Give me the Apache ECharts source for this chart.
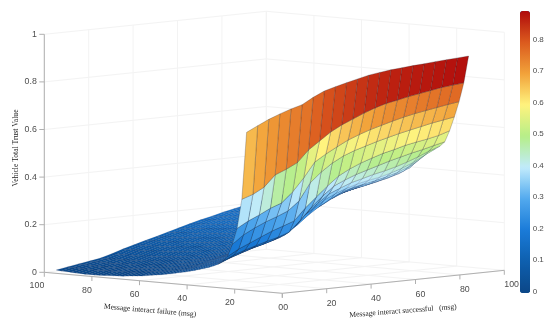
<!DOCTYPE html>
<html><head><meta charset="utf-8">
<style>html,body{margin:0;padding:0;background:#fff}#c{width:550px;height:322px}</style>
<script src="https://cdn.jsdelivr.net/npm/echarts@6/dist/echarts.min.js"></script>
</head><body><div id="c"></div>
<script>
const failValues=[15,17,19,21,23,25,27,29,31,33,35,37,39,41,43,45,47,49,51,53,55,57,59,61,63,65,67,69,71,73,75,77,79,81,83,85,87,89,91,93,95];
const successValues=[0,5,10,15,20,25,30,35,40,45,50,55,60,65,70,75,80,85,90,95,100];
const trustRows=[
[.663,.686,.708,.726,.742,.755,.781,.803,.816,.828,.839,.850,.857,.863,.867,.871,.874,.878,.881,.884,.887],
[.380,.396,.421,.468,.487,.510,.558,.591,.624,.649,.669,.689,.706,.720,.729,.739,.747,.755,.763,.768,.773],
[.256,.282,.303,.326,.343,.385,.439,.501,.530,.555,.579,.597,.613,.626,.639,.651,.661,.669,.677,.685,.692],
[.187,.222,.246,.267,.284,.303,.340,.411,.452,.485,.510,.528,.542,.556,.568,.580,.590,.600,.610,.618,.626],
[.134,.161,.181,.202,.222,.238,.255,.304,.346,.387,.424,.449,.469,.485,.500,.511,.524,.533,.541,.551,.566],
[.113,.134,.150,.164,.178,.190,.207,.252,.302,.343,.380,.401,.419,.433,.447,.461,.473,.485,.495,.507,.518],
[.098,.118,.134,.150,.162,.176,.192,.228,.275,.311,.345,.365,.383,.395,.408,.418,.430,.445,.462,.482,.498],
[.089,.108,.124,.139,.154,.166,.180,.210,.256,.285,.318,.340,.358,.372,.382,.390,.403,.418,.437,.462,.484],
[.081,.099,.115,.130,.144,.156,.170,.195,.221,.258,.290,.318,.340,.354,.365,.373,.385,.398,.417,.443,.474],
[.075,.092,.107,.122,.136,.148,.162,.183,.203,.245,.275,.300,.325,.342,.354,.360,.371,.383,.398,.425,.460],
[.069,.085,.100,.115,.128,.141,.155,.172,.186,.225,.265,.285,.310,.330,.342,.350,.360,.371,.385,.405,.445],
[.063,.080,.094,.109,.122,.135,.149,.166,.174,.215,.250,.275,.305,.320,.334,.343,.353,.364,.377,.396,.432],
[.058,.074,.088,.103,.116,.129,.143,.160,.170,.204,.235,.262,.290,.305,.324,.335,.345,.357,.369,.387,.419],
[.053,.069,.082,.096,.109,.122,.137,.153,.165,.193,.220,.247,.270,.295,.315,.327,.338,.349,.361,.378,.406],
[.049,.063,.076,.089,.102,.116,.131,.146,.160,.182,.205,.228,.255,.285,.307,.321,.331,.342,.353,.369,.393],
[.045,.058,.070,.083,.096,.110,.125,.140,.155,.172,.190,.210,.240,.275,.300,.315,.325,.335,.345,.360,.380],
[.041,.054,.066,.079,.092,.106,.121,.136,.150,.167,.185,.204,.232,.263,.286,.303,.316,.325,.336,.350,.368],
[.037,.050,.062,.075,.087,.101,.116,.131,.146,.162,.180,.198,.224,.251,.272,.291,.306,.316,.327,.340,.356],
[.033,.047,.058,.070,.083,.097,.112,.127,.141,.158,.174,.192,.214,.239,.258,.278,.297,.306,.318,.330,.344],
[.030,.043,.054,.066,.078,.092,.107,.122,.136,.153,.169,.187,.206,.227,.245,.266,.288,.298,.309,.320,.332],
[.027,.039,.050,.062,.074,.088,.103,.118,.132,.148,.164,.181,.198,.215,.232,.255,.275,.288,.300,.310,.320],
[.024,.036,.047,.059,.071,.085,.100,.115,.129,.145,.161,.177,.194,.211,.227,.249,.268,.281,.293,.304,.314],
[.021,.034,.045,.057,.068,.082,.097,.112,.126,.142,.158,.174,.190,.207,.222,.242,.260,.274,.286,.297,.308],
[.019,.032,.042,.053,.065,.079,.095,.110,.124,.139,.154,.170,.186,.202,.218,.235,.253,.266,.279,.291,.302],
[.017,.029,.039,.050,.062,.076,.092,.107,.121,.136,.151,.167,.182,.198,.213,.229,.245,.259,.273,.286,.296],
[.015,.027,.037,.047,.059,.073,.089,.104,.118,.133,.148,.163,.178,.193,.208,.223,.238,.252,.266,.280,.290],
[.013,.025,.035,.045,.057,.071,.087,.102,.116,.131,.145,.160,.175,.190,.205,.220,.234,.248,.262,.275,.286],
[.012,.024,.033,.043,.055,.069,.085,.100,.114,.128,.142,.157,.172,.187,.202,.216,.231,.244,.257,.270,.282],
[.011,.023,.032,.042,.053,.067,.083,.098,.112,.126,.140,.154,.169,.183,.198,.212,.227,.240,.252,.266,.278],
[.010,.022,.030,.040,.051,.065,.082,.097,.110,.124,.138,.152,.167,.181,.195,.209,.223,.236,.248,.261,.274],
[.009,.021,.029,.039,.050,.064,.080,.095,.109,.123,.137,.151,.165,.179,.193,.206,.219,.232,.244,.257,.270],
[.008,.021,.029,.038,.049,.063,.079,.094,.108,.122,.135,.149,.163,.177,.190,.204,.216,.229,.241,.254,.266],
[.007,.020,.028,.038,.048,.062,.078,.092,.106,.120,.134,.147,.161,.174,.188,.201,.213,.226,.238,.251,.262],
[.007,.020,.028,.037,.047,.061,.077,.091,.105,.118,.132,.146,.159,.172,.186,.199,.211,.222,.234,.247,.258],
[.007,.019,.027,.037,.047,.060,.076,.090,.104,.117,.130,.144,.157,.171,.183,.196,.208,.219,.231,.243,.254],
[.008,.019,.027,.036,.046,.059,.075,.089,.103,.116,.129,.143,.156,.169,.181,.194,.205,.216,.227,.239,.250],
[.009,.020,.028,.036,.046,.059,.075,.088,.102,.115,.128,.141,.155,.167,.179,.192,.203,.214,.224,.235,.246],
[.010,.020,.028,.036,.046,.059,.074,.088,.101,.114,.127,.140,.154,.166,.177,.190,.201,.212,.221,.232,.242],
[.011,.021,.029,.037,.045,.058,.074,.087,.101,.113,.126,.139,.152,.165,.175,.188,.199,.208,.218,.228,.239],
[.012,.021,.029,.037,.045,.058,.073,.087,.100,.112,.125,.138,.151,.163,.174,.186,.196,.206,.216,.225,.235],
[.014,.022,.030,.037,.045,.058,.073,.086,.099,.111,.124,.137,.150,.162,.172,.184,.194,.204,.213,.222,.231]
];
const failTicks=[100,80,60,40,20];
const failTickLabels=['100','80','60','40','20'];
const successTicks=[0,20,40,60,80,100];
const successTickLabels=['00','20','40','60','80','100'];
const trustTicks=[0,0.2,0.4,0.6,0.8,1];
const trustTickLabels=['0','0.2','0.4','0.6','0.8','1'];
const barTicks=[0,0.1,0.2,0.3,0.4,0.5,0.6,0.7,0.8];
const barTickLabels=['0','0.1','0.2','0.3','0.4','0.5','0.6','0.7','0.8'];
const barColors=['#0b4787','#0e5fae','#1a7bd8','#52a9ee','#c0ebfc','#b6ee88','#fff37e','#f2a23a','#db5a1e','#b00b0b'];

// Oblique view of the box: floor front corner, and px per unit of each axis.
const view={ox:282.3,oy:293.3,fx:-2.38,fy:-0.21,sx:2.22,sy:-0.23,z:-238};
const project=(f,s,z)=>[view.ox+f*view.fx+s*view.sx, view.oy+f*view.fy+s*view.sy+z*view.z];
const barY=v=>291.4-v*315.1;

const TEXT='#4d4d4d',GRID='#f3f3f3',AXIS='#b0b0b0';
const segs=[];
const seg=(a,b,c)=>segs.push({a,b,c});
const gridF=[0,20,40,60,80,100], gridS=[0,20,40,60,80,100];
trustTicks.forEach(z=>{ if(z>0){
  seg(project(100,0,z),project(100,100,z),GRID);
  seg(project(100,100,z),project(0,100,z),GRID);}});
gridS.forEach(s=>seg(project(100,s,0),project(100,s,1),GRID));
gridF.forEach(f=>seg(project(f,100,0),project(f,100,1),GRID));
gridS.forEach(s=>seg(project(0,s,0),project(100,s,0),GRID));
gridF.forEach(f=>seg(project(f,0,0),project(f,100,0),GRID));
seg(project(100,0,0),project(100,0,1),AXIS);
seg(project(100,0,0),project(0,0,0),AXIS);
seg(project(0,0,0),project(0,100,0),AXIS);
trustTicks.forEach(z=>{const p=project(100,0,z);seg(p,[p[0]-5,p[1]],AXIS);});
failTicks.concat([0]).forEach(f=>{const p=project(f,0,0);seg(p,[p[0],p[1]+4.5],AXIS);});
successTicks.forEach(s=>{const p=project(0,s,0);seg(p,[p[0],p[1]+4.5],AXIS);});
barTicks.forEach(v=>seg([527.5,barY(v)],[530,barY(v)],'#666666'));

const cells=[];
for(let i=failValues.length-2;i>=0;i--)
  for(let j=successValues.length-2;j>=0;j--)
    cells.push([i,j,trustRows[i][j]]);

const TICKFONT='8.8px "Liberation Sans", Arial, sans-serif';
const texts=[];
failTicks.forEach((f,i)=>{const p=project(f,0,0);texts.push({t:failTickLabels[i],x:p[0],y:p[1]+13.6,al:'right',font:TICKFONT});});
successTicks.forEach((s,i)=>{const p=project(0,s,0);texts.push({t:successTickLabels[i],x:p[0]+(s===0?-4:0),y:p[1]+14.7,al:'left',font:TICKFONT});});
trustTicks.forEach((z,i)=>{const p=project(100,0,z);texts.push({t:trustTickLabels[i],x:p[0]-7.5,y:p[1],al:'right',font:TICKFONT});});
barTicks.forEach((v,i)=>texts.push({t:barTickLabels[i],x:532.7,y:barY(v),al:'left',font:'8px "Liberation Sans", Arial, sans-serif'}));
const TITLEFONT='7.6px "Liberation Serif", "Times New Roman", serif';
texts.push({t:'Message interact failure (msg)',x:150,y:310.5,al:'center',font:TITLEFONT,rot:-0.085,fill:'#222'});
texts.push({t:'Message interact successful   (msg)',x:403,y:311,al:'center',font:TITLEFONT,rot:0.077,fill:'#222'});
texts.push({t:'Vehicle Total Trust Value',x:16,y:148,al:'center',font:TITLEFONT,rot:Math.PI/2,fill:'#222'});

const chart=echarts.init(document.getElementById('c'),null,{renderer:'canvas'});
chart.setOption({
  animation:false,
  backgroundColor:'#ffffff',
  grid:{left:0,right:0,top:0,bottom:0},
  xAxis:{type:'value',min:0,max:550,show:false},
  yAxis:{type:'value',min:0,max:322,inverse:true,show:false},
  visualMap:{type:'continuous',seriesIndex:1,dimension:2,min:-0.005,max:0.89,
    left:520,top:11,itemWidth:10,itemHeight:282,padding:0,calculable:false,hoverLink:false,
    text:null,inRange:{color:barColors},outOfRange:{color:barColors[0]}},
  series:[
    {type:'custom',coordinateSystem:'cartesian2d',silent:true,clip:false,z:1,
     data:segs.map((_,i)=>[i]),
     renderItem:(p,api)=>{const d=segs[api.value(0)];const a=api.coord(d.a),b=api.coord(d.b);
       return {type:'line',silent:true,shape:{x1:a[0],y1:a[1],x2:b[0],y2:b[1]},style:{stroke:d.c,lineWidth:1}};}},
    {type:'custom',coordinateSystem:'cartesian2d',silent:true,clip:false,z:2,
     encode:{x:0,y:1},data:cells,
     renderItem:(p,api)=>{const i=api.value(0),j=api.value(1);
       const f0=failValues[i],f1=failValues[i+1],s0=successValues[j],s1=successValues[j+1];
       const pts=[project(f0,s0,trustRows[i][j]),project(f0,s1,trustRows[i][j+1]),
                  project(f1,s1,trustRows[i+1][j+1]),project(f1,s0,trustRows[i+1][j])].map(q=>api.coord(q));
       const fine=i>=6;
       return {type:'polygon',silent:true,shape:{points:pts},
         style:{fill:api.visual('color'),stroke:fine?'rgba(10,30,75,0.42)':'rgba(30,30,40,0.62)',lineWidth:fine?0.35:0.4,lineJoin:'round'}};}},
    {type:'custom',coordinateSystem:'cartesian2d',silent:true,clip:false,z:3,
     data:texts.map((_,i)=>[i]),
     renderItem:(p,api)=>{const d=texts[api.value(0)];const a=api.coord([d.x,d.y]);
       return {type:'text',silent:true,x:a[0],y:a[1],rotation:d.rot||0,
         style:{text:d.t,font:d.font,fill:d.fill||TEXT,align:d.al,verticalAlign:'middle'}};}}
  ]
});
</script></body></html>
